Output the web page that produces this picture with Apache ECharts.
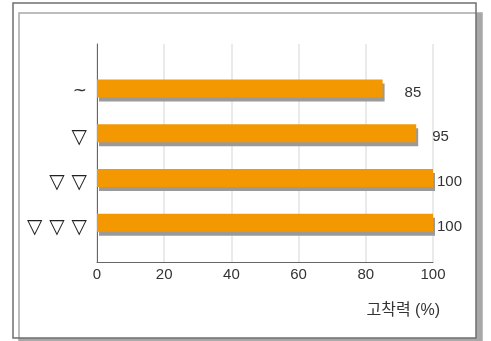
<!DOCTYPE html>
<html>
<head>
<meta charset="utf-8">
<script src="https://cdn.jsdelivr.net/npm/echarts@6/dist/echarts.min.js"></script>
<style>
  html, body { margin: 0; padding: 0; background: #fff; }
  #chart { width: 491px; height: 341px; }
</style>
</head>
<body>
<div id="chart"></div>
<script>
// 데이터
const categories = ["~", "▽", "▽ ▽", "▽ ▽ ▽"];
const values = [85, 95, 100, 100];
const xTicks = [0, 20, 40, 60, 80, 100];
const axisTitle = "고착력 (%)";

// 값 라벨과 막대 사이 간격 (스타일)
const labelGaps = [22, 16, 4, 4];

const FONT = "'Liberation Sans', 'Noto Sans CJK KR', sans-serif";
const chart = echarts.init(document.getElementById("chart"));

const options = {
  animation: false,
  backgroundColor: "#fff",
  graphic: [
    {
      type: "rect",
      z: -10,
      shape: { x: 13, y: 3, width: 463, height: 335 },
      style: {
        fill: "#fff",
        stroke: "#6f6f6f",
        lineWidth: 1.5,
        shadowColor: "#a8a8a8",
        shadowOffsetX: 6,
        shadowOffsetY: 10,
        shadowBlur: 0,
      },
    },
    {
      type: "text",
      right: 51,
      top: 303,
      style: {
        text: axisTitle,
        font: "16px " + FONT,
        fill: "#333",
      },
    },
  ],
  grid: [
    // 축 + 격자
    { left: 97, right: 58, top: 44, bottom: 79 },
    // 막대
    { left: 97, right: 58, top: 66, bottom: 96 },
  ],
  xAxis: [
    {
      gridIndex: 0,
      type: "value",
      min: xTicks[0],
      max: xTicks[xTicks.length - 1],
      interval: 20,
      axisLine: { show: true, lineStyle: { color: "#666", width: 1 } },
      axisTick: { show: false },
      axisLabel: {
        margin: 5,
        fontSize: 15,
        color: "#333",
        fontFamily: FONT,
      },
      splitLine: { show: true, lineStyle: { color: "#e3e3e3", width: 1.5 } },
    },
    {
      gridIndex: 1,
      type: "value",
      min: xTicks[0],
      max: xTicks[xTicks.length - 1],
      show: false,
    },
  ],
  yAxis: [
    {
      gridIndex: 0,
      type: "value",
      axisLine: { show: true, lineStyle: { color: "#666", width: 1 } },
      axisTick: { show: false },
      axisLabel: { show: false },
      splitLine: { show: false },
    },
    {
      gridIndex: 1,
      type: "category",
      inverse: true,
      data: categories,
      axisLine: { show: false },
      axisTick: { show: false },
      splitLine: { show: false },
      axisLabel: {
        margin: 10,
        formatter: (v) => (v === "~" ? "{w|" + v + "}" : "{t|" + v + "}"),
        rich: {
          w: {
            fontSize: 17,
            color: "#333",
            fontFamily: "'DejaVu Sans', sans-serif",
            padding: [6, 0, 0, 0],
          },
          t: {
            fontSize: 20,
            fontWeight: "bold",
            color: "#222",
            fontFamily: "'DejaVu Sans', sans-serif",
            padding: [10, 0, 0, 0],
          },
        },
      },
    },
  ],
  series: [
    {
      type: "bar",
      xAxisIndex: 1,
      yAxisIndex: 1,
      barWidth: 18,
      data: values.map((v, i) => ({
        value: v,
        label: { distance: labelGaps[i] },
      })),
      itemStyle: {
        color: "#f39800",
        shadowColor: "#9a9a9a",
        shadowOffsetX: 2,
        shadowOffsetY: 4,
        shadowBlur: 0,
      },
      label: {
        show: true,
        position: "right",
        offset: [0, 4],
        fontSize: 15,
        color: "#333",
        fontFamily: FONT,
      },
    },
  ],
};

chart.setOption(options);
</script>
</body>
</html>
